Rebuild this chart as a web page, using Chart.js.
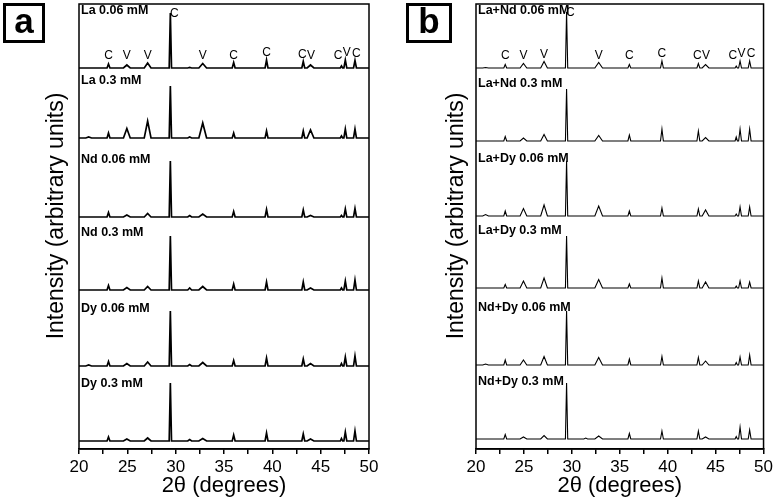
<!DOCTYPE html>
<html>
<head>
<meta charset="utf-8">
<script src="https://cdn.jsdelivr.net/npm/chart.js@4"></script>
<style>
    body { margin: 0; background: #fff; width: 776px; height: 500px; position: relative; overflow: hidden; font-family: "Liberation Sans", Arial, sans-serif; }
    canvas { position: absolute; top: 0; }
    #xrdA { left: 0; }
    #xrdB { left: 388px; }
    .tag { position: absolute; top: 3px; height: 34px; border: 3px solid #000; font-weight: bold; font-size: 35px; line-height: 30px; text-align: center; }
</style>
</head>
<body>
<canvas id="xrdA" width="388" height="500"></canvas>
<canvas id="xrdB" width="388" height="500"></canvas>
<div class="tag" style="left:3px;width:36px;">a</div>
<div class="tag" style="left:406px;width:40px;">b</div>
<script>
    // peak positions (2theta) and half widths at the foot, shared by all samples
    var twoTheta = [21.0, 23.05, 24.95, 27.1, 29.45, 31.45, 32.8, 36.0, 39.4, 43.2, 43.95, 47.15, 47.55, 48.55];
    var peakHalfWidth = [0.3, 0.15, 0.35, 0.35, 0.12, 0.2, 0.4, 0.15, 0.15, 0.15, 0.35, 0.12, 0.15, 0.15];

    // panel a
    var namesA = ["La 0.06 mM", "La 0.3 mM", "Nd 0.06 mM", "Nd 0.3 mM", "Dy 0.06 mM", "Dy 0.3 mM"];
    var la006 = [0, 4, 3, 5, 55, 0.5, 4.5, 5.5, 8, 6.5, 3, 2, 8, 7.5];
    var la03 = [1, 5, 9.5, 17, 52, 1, 15, 5, 7, 7, 8, 2, 9, 9];
    var nd006 = [0, 4.5, 2, 3.5, 56, 1.5, 3, 5.5, 7.5, 7, 1.5, 1.5, 8, 8.5];
    var nd03 = [0, 4.5, 2.5, 3.5, 54, 2, 3.5, 6, 8, 8, 2, 2, 9, 10];
    var dy006 = [1, 4.5, 2.5, 4, 55, 1.5, 3.5, 5.5, 8, 7, 2.5, 2.5, 9, 10];
    var dy03 = [0, 4, 2, 3, 58, 1.5, 2.5, 6, 8, 7, 2, 2.5, 9, 10];
    var offsetsA = [381, 311, 232, 159, 83, 8];

    // panel b
    var namesB = ["La+Nd 0.06 mM", "La+Nd 0.3 mM", "La+Dy 0.06 mM", "La+Dy 0.3 mM", "Nd+Dy 0.06 mM", "Nd+Dy 0.3 mM"];
    var lanD006 = [0.5, 3.5, 4.5, 6.5, 56, 0, 5.5, 3.5, 7, 4.5, 3.5, 2, 7, 7];
    var lanD03 = [0, 4.5, 3, 6.5, 52, 0, 5.5, 6, 12, 10, 3.5, 4, 12, 12];
    var laDy006 = [1.5, 5, 7.5, 11, 55, 0, 10, 5, 8, 7, 6, 2, 9, 9];
    var laDy03 = [0, 3.5, 7, 10, 52, 0, 8.5, 4, 10, 7, 6, 2, 7, 6];
    var ndDy006 = [1, 5, 5, 8.5, 54, 0, 7.5, 6, 8.5, 7.5, 4, 2.5, 8, 10];
    var ndDy03 = [0, 4.5, 2, 3.5, 56, 1, 3, 5.5, 8, 8, 2, 2.5, 12, 9];
    var offsetsB = [381, 308, 233, 161, 84, 10];

    // phase marks over the top pattern (C = calcite, V = vaterite)
    var phaseLetters = ["C", "V", "V", "C", "V", "C", "C", "C", "V", "C", "V", "C"];
    var letterPos = [23.05, 24.95, 27.1, 29.85, 32.8, 36.0, 39.4, 43.1, 44.0, 46.8, 47.7, 48.7];
    var letterPeak = [1, 2, 3, 4, 6, 7, 8, 9, 10, 11, 12, 13];

    var FONT = '"Liberation Sans", Arial, sans-serif';

    function pattern(heights, base) {
        var pts = [{ x: 20, y: base }];
        for (var i = 0; i < twoTheta.length; i++) {
            pts.push({ x: twoTheta[i] - peakHalfWidth[i], y: base });
            pts.push({ x: twoTheta[i], y: base + heights[i] });
            pts.push({ x: twoTheta[i] + peakHalfWidth[i], y: base });
        }
        pts.push({ x: 50, y: base });
        return pts;
    }

    var decor = {
        id: 'decor',
        afterDatasetsDraw: function (chart) {
            var ctx = chart.ctx, a = chart.chartArea, sx = chart.scales.x, sy = chart.scales.y;
            var o = chart.options.plugins.decor;
            ctx.save();
            ctx.strokeStyle = '#000';
            ctx.lineWidth = 1.5;
            ctx.strokeRect(a.left, a.top, a.right - a.left, a.bottom - a.top);
            ctx.fillStyle = '#000';

            ctx.font = 'bold 12.5px ' + FONT;
            ctx.textAlign = 'left';
            ctx.textBaseline = 'middle';
            o.names.forEach(function (n, i) {
                ctx.fillText(n, a.left + 2, sy.getPixelForValue(o.offsets[i] + 57));
            });

            ctx.font = '12px ' + FONT;
            ctx.textAlign = 'center';
            var top = o.series[0], base = o.offsets[0];
            phaseLetters.forEach(function (l, i) {
                var h = top[letterPeak[i]];
                var lift = h > 30 ? h - 1 : Math.max(12, h + 7);
                ctx.fillText(l, sx.getPixelForValue(letterPos[i]), sy.getPixelForValue(base + lift));
            });

            ctx.font = '23px ' + FONT;
            ctx.translate(o.titleX, 216);
            ctx.rotate(-Math.PI / 2);
            ctx.fillText('Intensity (arbitrary units)', 0, 0);
            ctx.restore();
        }
    };

    function makeChart(id, names, series, offsets, leftPad, rightPad, titleX, lineW) {
        var datasets = series.map(function (s, i) {
            return {
                label: names[i],
                data: pattern(s, offsets[i]),
                borderColor: '#000',
                borderWidth: lineW,
                pointRadius: 0,
                tension: 0,
                fill: false
            };
        });
        return new Chart(document.getElementById(id), {
            type: 'line',
            data: { datasets: datasets },
            plugins: [decor],
            options: {
                responsive: false,
                animation: false,
                layout: { padding: { left: leftPad, right: rightPad, top: 4, bottom: 0 } },
                plugins: {
                    legend: { display: false },
                    tooltip: { enabled: false },
                    decor: { names: names, offsets: offsets, series: series, titleX: titleX }
                },
                scales: {
                    x: {
                        type: 'linear', min: 20, max: 50,
                        afterFit: function (s) { s.height = 51; },
                        ticks: {
                            stepSize: 2.5, autoSkip: false, maxRotation: 0, color: '#000', padding: 3,
                            font: { size: 17, family: FONT },
                            callback: function (v) { return v % 5 === 0 ? v : ''; }
                        },
                        grid: { drawOnChartArea: false, drawTicks: true, tickLength: 5, color: '#000', lineWidth: 1.5 },
                        border: { display: true, color: '#000', width: 1.5 },
                        title: { display: true, text: '2θ (degrees)', color: '#000', font: { size: 22, family: FONT }, padding: { top: 0, bottom: 1 } }
                    },
                    y: { display: false, min: 0, max: 445 }
                }
            }
        });
    }

    makeChart('xrdA', namesA, [la006, la03, nd006, nd03, dy006, dy03], offsetsA, 79, 19, 57, 1.7);
    makeChart('xrdB', namesB, [lanD006, lanD03, laDy006, laDy03, ndDy006, ndDy03], offsetsB, 88, 9, 69, 1.1);
</script>
</body>
</html>
